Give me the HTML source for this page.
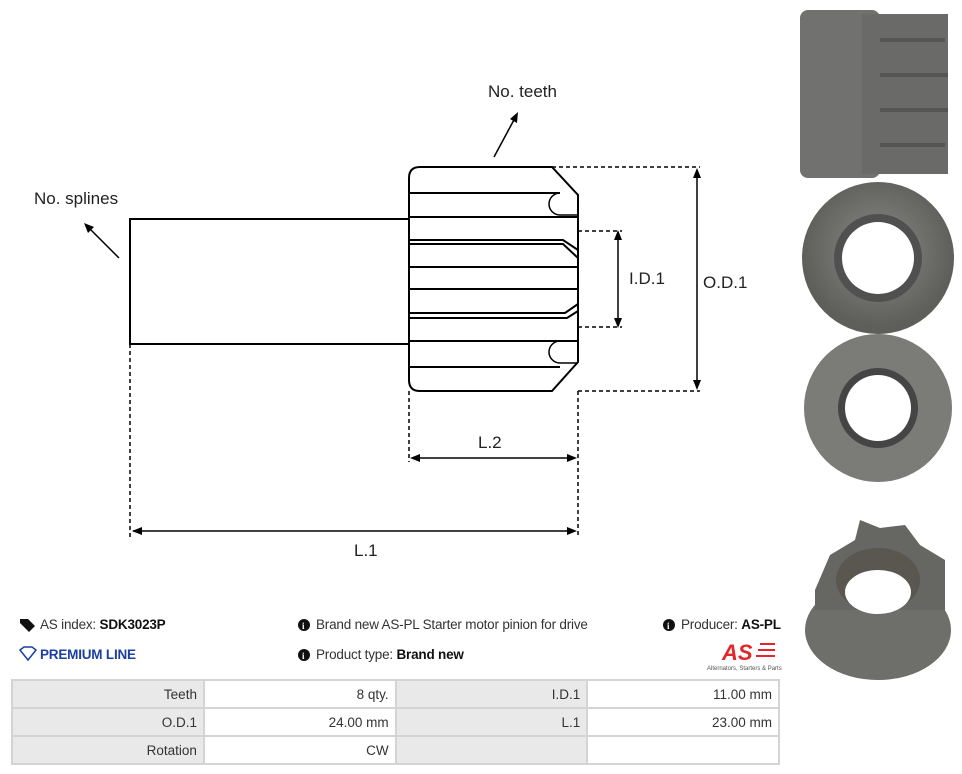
<!DOCTYPE html>
<html><head><meta charset="utf-8"><style>
body{margin:0;width:962px;height:774px;background:#fff;position:relative;font-family:"Liberation Sans",sans-serif;overflow:hidden}
.t{position:absolute;font-size:13.5px;color:#333;white-space:nowrap;letter-spacing:-0.2px}
b{color:#111}
table{position:absolute;left:11px;top:679px;border-collapse:collapse;width:769px;font-size:13.5px;color:#333}
td{border:2px solid #d4d4d4;height:26px;padding:0 6px;text-align:right;width:180px}
td.g{background:#e9e9e9}
</style></head><body>
<svg width="962" height="774" style="position:absolute;left:0;top:0">
<defs><radialGradient id="m" cx="50%" cy="45%"><stop offset="0" stop-color="#8a8a86"/><stop offset="1" stop-color="#5e5e5b"/></radialGradient></defs>
<g fill="none" stroke="#000" stroke-width="2">
<rect x="130" y="219" width="279" height="125"/>
<path d="M409,178 Q409,167 420,167 L552,167 L578,195 L578,362 L552,391 L420,391 Q409,391 409,380 Z"/>
<path d="M409,193 L560,193 M409,217 L578,217 M409,240 L563,240 L578,250 M409,244 L563,244 L578,258 M409,267 L578,267 M409,289 L578,289 M409,313 L565,313 L578,304 M409,318 L567,318 L578,311 M409,341 L578,341 M409,367 L560,367"/>
<path d="M560,193 A11,11 0 0 0 560,215 L578,215 M560,341 A11,11 0 0 0 560,363 L578,363" stroke-width="1.5"/>
</g>
<g stroke="#000" stroke-width="1.5" stroke-dasharray="4,3" fill="none">
<path d="M552,167 L700,167 M578,391 L700,391 M578,231 L622,231 M578,327 L622,327 M409,391 L409,462 M578,391 L578,538 M130,344 L130,538"/>
</g>
<g stroke="#000" stroke-width="1.5" fill="none">
<path d="M697,172 L697,386 M618,234 L618,324 M412,458 L575,458 M133,531 L575,531 M119,258 L88,227 M494,157 L515,118"/>
</g>
<g fill="#000">
<path d="M697,168 l-4,10 h8 z M697,390 l-4,-10 h8 z"/>
<path d="M618,230 l-4,10 h8 z M618,328 l-4,-10 h8 z"/>
<path d="M410,458 l10,-4 v8 z M577,458 l-10,-4 v8 z"/>
<path d="M132,531 l10,-4 v8 z M577,531 l-10,-4 v8 z"/>
<path d="M84,223 l10,4 l-6,6 z"/>
<path d="M518,112 l-1,11 l-7,-4 z"/>
</g>
<g font-family="Liberation Sans" font-size="17" fill="#222">
<text x="488" y="97">No. teeth</text><text x="34" y="204">No. splines</text>
<text x="629" y="284">I.D.1</text><text x="703" y="288">O.D.1</text>
<text x="478" y="448">L.2</text><text x="354" y="556">L.1</text></g>
<rect x="800" y="10" width="80" height="168" rx="8" fill="#717170"/>
<rect x="862" y="14" width="86" height="160" fill="#6a6a68"/>
<g stroke="#555" stroke-width="4"><path d="M880,40 H945 M880,75 H948 M880,110 H948 M880,145 H945"/></g>
<circle cx="878" cy="258" r="76" fill="url(#m)"/>
<circle cx="878" cy="258" r="44" fill="#505050"/><circle cx="878" cy="258" r="36" fill="#fff"/>
<circle cx="878" cy="408" r="74" fill="#7b7b78"/>
<circle cx="878" cy="408" r="40" fill="#454545"/><circle cx="878" cy="408" r="33" fill="#fff"/>
<ellipse cx="878" cy="630" rx="73" ry="50" fill="#6e6e6b"/>
<path d="M815,590 L830,555 L855,540 L860,520 L880,528 L905,525 L920,545 L945,560 L945,610 L815,610 Z" fill="#666663"/>
<ellipse cx="878" cy="580" rx="42" ry="32" fill="#5a5650"/><ellipse cx="878" cy="592" rx="33" ry="22" fill="#fff"/>
<g fill="#111"><circle cx="304" cy="625" r="6"/><circle cx="304" cy="655" r="6"/><circle cx="669" cy="625" r="6"/></g>
<g fill="#fff" font-size="9" font-weight="bold" font-family="Liberation Serif"><text x="302" y="629">i</text><text x="302" y="659">i</text><text x="667" y="629">i</text></g>
<path d="M20,619 L28,619 L35,626 L29,632 L20,623 Z" fill="#111"/>
<path d="M20,650 L24,647 L32,647 L36,650 L28,660 Z" fill="none" stroke="#1b3fa0" stroke-width="1.5"/>
<text x="722" y="660" font-size="22" font-weight="bold" font-style="italic" fill="#e3262b" font-family="Liberation Sans">AS</text>
<g stroke="#e3262b" stroke-width="2"><path d="M760,644 H775 M758,650 H775 M756,656 H775"/></g>
<text x="707" y="670" font-size="6" fill="#555">Alternators, Starters &amp; Parts</text>
</svg>
<div class="t" style="left:40px;top:617px">AS index: <b>SDK3023P</b></div>
<div class="t" style="left:40px;top:647px;color:#1b3fa0;font-weight:bold">PREMIUM LINE</div>
<div class="t" style="left:316px;top:617px">Brand new AS-PL Starter motor pinion for drive</div>
<div class="t" style="left:316px;top:647px">Product type: <b>Brand new</b></div>
<div class="t" style="left:681px;top:617px">Producer: <b>AS-PL</b></div>
<table>
<tr><td class="g">Teeth</td><td>8 qty.</td><td class="g">I.D.1</td><td>11.00 mm</td></tr>
<tr><td class="g">O.D.1</td><td>24.00 mm</td><td class="g">L.1</td><td>23.00 mm</td></tr>
<tr><td class="g">Rotation</td><td>CW</td><td class="g"></td><td></td></tr>
</table>
</body></html>
